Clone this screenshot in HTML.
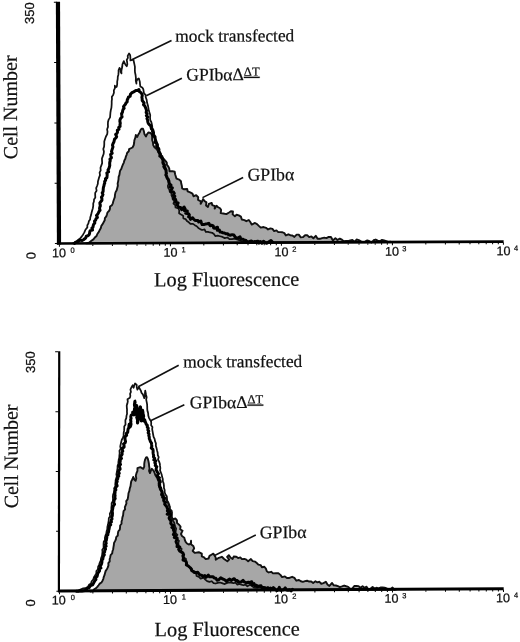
<!DOCTYPE html>
<html><head><meta charset="utf-8"><title>Figure</title>
<style>
html,body{margin:0;padding:0;background:#fff;}
svg{display:block;}
.sans{font-family:"Liberation Sans",sans-serif;fill:#111;stroke:#111;stroke-width:0.25px;}
.serif{font-family:"Liberation Serif",serif;fill:#111;stroke:#111;stroke-width:0.22px;}
</style></head><body>
<svg width="520" height="642" viewBox="0 0 520 642">
<rect width="520" height="642" fill="#fff"/>
<g id="top" transform="rotate(-0.25 180 150)">
<path d="M86.0,243.0 L88.5,242.3 L90.7,240.6 L93.0,239.0 L94.4,237.2 L96.2,235.6 L97.1,233.4 L98.5,231.5 L99.4,229.6 L100.5,227.7 L101.0,225.5 L102.3,223.8 L103.3,221.9 L104.4,220.0 L104.6,217.7 L106.0,216.0 L106.7,214.0 L107.3,212.0 L108.9,210.5 L109.7,208.5 L109.8,206.3 L111.7,204.9 L112.6,203.0 L113.1,201.0 L113.8,199.0 L114.6,196.8 L114.8,194.4 L115.3,192.1 L116.5,190.0 L117.1,187.7 L117.7,185.4 L117.5,183.2 L118.0,181.1 L118.4,178.9 L118.5,176.7 L119.3,174.7 L119.6,172.5 L120.0,170.4 L121.3,168.5 L122.0,166.3 L122.9,164.2 L123.8,162.3 L124.3,160.3 L125.3,158.5 L125.8,156.5 L126.6,154.6 L127.2,152.5 L128.8,151.0 L129.1,148.8 L132.5,147.3 L133.7,145.1 L134.2,142.6 L134.4,140.1 L135.4,137.5 L135.9,134.8 L136.6,136.2 L137.3,136.8 L138.3,134.5 L139.7,132.4 L140.4,130.4 L141.6,128.6 L143.1,128.6 L144.0,131.2 L144.5,133.9 L146.0,136.3 L147.2,134.0 L148.4,132.4 L150.8,132.9 L152.0,134.9 L152.2,137.2 L152.2,139.8 L153.0,142.3 L153.2,144.9 L154.5,147.2 L156.5,148.9 L158.0,151.0 L158.8,153.1 L160.2,154.7 L162.2,155.9 L163.0,158.0 L165.4,160.8 L166.7,162.6 L166.9,164.9 L168.3,166.5 L169.2,168.5 L169.4,171.2 L172.4,171.1 L174.6,171.7 L175.0,174.2 L175.7,176.4 L176.4,178.6 L179.1,179.6 L180.8,181.2 L181.1,183.6 L181.7,185.8 L182.0,188.4 L183.9,189.3 L187.0,189.1 L187.5,191.5 L190.0,192.4 L192.3,193.6 L193.3,196.3 L196.0,195.3 L198.0,197.3 L197.8,199.9 L200.7,201.4 L200.4,204.0 L201.8,201.7 L202.9,199.2 L204.3,201.1 L206.2,202.5 L205.8,205.5 L207.7,207.0 L208.6,204.1 L211.5,203.0 L212.0,205.2 L214.7,206.2 L214.4,208.8 L216.3,206.0 L217.9,207.4 L219.8,208.4 L220.9,210.1 L220.4,213.3 L223.0,213.7 L226.1,214.3 L228.8,212.7 L230.6,211.5 L232.7,211.7 L232.4,214.6 L234.6,216.5 L236.3,215.0 L238.5,215.6 L240.6,216.9 L241.5,219.8 L244.2,220.4 L246.0,221.5 L248.5,220.3 L250.0,222.3 L251.4,224.9 L254.7,223.3 L256.7,224.4 L258.5,226.2 L260.4,228.0 L263.3,227.4 L265.7,228.2 L267.7,229.8 L270.1,228.8 L272.1,229.3 L273.8,231.5 L276.1,230.8 L277.9,232.5 L280.0,232.6 L282.1,232.7 L284.0,233.6 L285.5,235.9 L288.0,234.8 L289.9,235.7 L292.0,236.0 L294.0,237.4 L296.3,235.1 L298.4,235.1 L300.4,237.9 L302.5,237.7 L304.7,235.8 L306.8,235.7 L308.8,237.7 L311.0,237.0 L313.0,238.8 L315.4,236.4 L317.2,239.4 L319.4,239.4 L321.7,238.7 L323.9,238.3 L326.0,238.8 L328.4,237.6 L330.6,237.6 L332.5,241.1 L335.0,238.8 L337.0,240.7 L339.4,239.3 L341.5,240.4 L343.3,242.0 L345.6,241.7 L347.7,241.8 L349.8,241.1 L352.0,240.7 L354.1,242.7 L356.2,240.3 L358.4,240.9 L360.5,242.1 L362.6,243.2 L364.7,242.4 L366.9,241.2 L369.0,242.0 L371.1,243.6 L373.2,241.1 L375.3,240.4 L377.4,241.4 L379.5,242.1 L381.6,240.8 L383.7,241.3 L385.8,242.0 L387.9,242.8 L390.0,242.6 L390.0,243.0 L86.0,243.0 Z" fill="#a7a7a7" stroke="#111" stroke-width="1.9" stroke-linejoin="round"/>
<path d="M72.0,243.0 L75.4,241.5 L77.7,239.6 L80.0,237.7 L81.5,235.9 L82.8,234.0 L84.0,232.0 L85.1,229.3 L87.0,227.0 L87.0,224.8 L88.1,223.0 L88.5,220.9 L89.8,219.1 L90.0,217.0 L90.8,214.7 L91.3,212.4 L91.9,210.1 L92.6,207.8 L93.0,205.4 L93.0,203.2 L93.7,201.2 L93.8,199.1 L95.1,197.2 L95.0,195.0 L95.0,192.5 L96.4,190.3 L96.0,187.7 L97.0,185.4 L97.7,183.4 L97.8,181.2 L98.4,179.1 L99.0,177.0 L99.9,174.8 L99.5,172.2 L100.6,170.0 L100.4,167.4 L101.3,165.0 L102.1,162.8 L102.0,160.5 L101.9,158.2 L102.7,156.0 L103.6,153.7 L103.9,151.2 L103.3,148.7 L104.1,146.3 L104.3,143.8 L104.3,141.2 L105.1,138.7 L106.0,136.2 L107.3,133.8 L107.6,131.4 L107.2,129.0 L108.1,126.6 L108.0,124.2 L108.1,121.7 L108.8,119.3 L110.2,117.1 L110.4,114.6 L110.6,112.2 L111.0,109.8 L111.6,107.4 L111.8,105.0 L111.9,102.9 L111.9,100.9 L112.2,98.8 L112.1,96.5 L113.4,94.6 L114.2,92.5 L114.1,90.2 L115.2,87.9 L115.1,85.4 L116.2,86.9 L117.0,86.5 L117.5,83.9 L117.5,81.3 L118.0,78.7 L118.1,76.5 L118.7,74.4 L118.9,72.2 L118.9,70.0 L119.9,67.6 L120.9,69.4 L121.0,71.5 L121.8,73.2 L121.7,70.9 L122.1,68.7 L122.6,66.5 L122.8,64.2 L124.2,60.9 L125.8,64.5 L127.1,66.0 L127.7,64.0 L127.5,61.8 L127.1,59.7 L128.3,57.7 L128.1,55.6 L129.5,53.2 L130.6,55.1 L130.8,57.6 L130.8,60.2 L133.8,59.4 L134.3,61.8 L134.8,64.2 L135.3,66.7 L135.2,69.3 L135.3,71.9 L135.9,74.8 L136.2,77.7 L136.1,80.6 L136.7,83.5 L136.7,81.2 L137.7,79.1 L139.1,78.2 L140.1,81.5 L140.3,83.9 L140.6,86.3 L142.5,87.3 L143.6,89.1 L143.9,91.2 L144.3,93.2 L145.8,94.8 L145.9,96.9 L146.9,99.7 L147.3,102.7 L148.1,105.3 L148.6,108.0 L148.9,110.2 L149.6,112.3 L150.4,114.8 L150.2,117.4 L150.4,120.0 L151.4,121.9 L151.9,123.9 L152.3,126.0 L152.4,128.2 L153.5,130.0 L154.1,132.2 L154.2,134.5 L155.7,136.4 L155.4,138.8 L156.5,140.8 L157.3,142.9 L158.1,145.0 L158.0,147.3 L158.4,149.5 L159.5,151.5 L160.9,153.6 L161.5,156.1 L161.8,158.6 L163.0,160.8 L163.8,162.9 L164.5,165.0 L165.4,167.1 L165.9,169.2 L166.0,171.5 L166.2,173.5 L166.1,175.6 L166.5,177.6 L167.4,179.5 L168.3,181.5 L168.6,183.5 L167.7,185.7 L168.0,187.7 L169.2,189.6 L169.6,191.7 L171.3,193.2 L171.3,195.4 L172.2,197.3 L172.5,199.3 L174.1,200.9 L173.2,203.5 L175.0,205.0 L175.3,207.5 L178.1,208.4 L179.0,210.5 L178.8,213.2 L180.8,214.6 L182.8,215.7 L183.1,218.5 L185.4,219.2 L186.6,221.1 L188.5,222.3 L190.1,223.9 L192.7,223.9 L194.5,225.2 L196.4,226.3 L198.0,228.0 L199.8,229.2 L201.7,230.1 L204.2,229.5 L205.4,232.1 L207.7,232.0 L209.7,232.6 L211.8,232.9 L213.5,234.1 L214.9,236.2 L217.3,235.8 L219.7,236.4 L222.1,237.1 L224.4,238.3 L227.0,237.7 L229.1,239.4 L231.6,239.3 L234.2,238.9 L236.5,239.6 L238.8,240.3 L241.0,241.6 L243.5,241.8 L246.0,241.5 L248.0,241.8 L250.0,241.3 L252.0,241.5 L254.0,242.6 L256.0,242.3 L258.1,241.0 L260.0,242.9 L262.0,242.5" fill="none" stroke="#111" stroke-width="1.75" stroke-linejoin="round"/>
<path d="M74.0,243.0 L75.1,241.7 L76.8,241.6 L78.2,240.6 L79.7,239.7 L81.7,240.1 L83.1,239.3 L84.3,238.4 L85.4,237.4 L86.0,235.7 L87.6,235.3 L88.7,234.4 L89.2,233.0 L89.4,231.5 L89.9,230.2 L92.2,229.7 L91.5,227.7 L92.7,226.8 L92.9,225.2 L93.4,223.8 L94.5,222.6 L94.2,220.8 L95.4,219.7 L95.7,218.2 L97.1,217.1 L96.2,215.1 L97.3,213.9 L98.1,212.6 L98.7,211.2 L99.8,209.9 L99.3,208.4 L99.5,206.9 L100.1,205.5 L99.8,204.0 L99.6,202.5 L100.7,201.2 L101.7,199.9 L101.7,198.4 L101.2,196.8 L102.2,195.6 L102.8,194.2 L102.0,192.5 L102.9,191.2 L103.0,189.8 L103.1,188.3 L103.3,186.9 L103.8,185.5 L104.0,184.1 L104.6,182.8 L104.5,181.2 L105.5,180.0 L105.3,178.5 L106.8,177.4 L106.9,176.0 L107.1,174.5 L106.7,172.7 L108.5,171.5 L107.9,169.7 L108.8,168.2 L109.3,166.7 L109.7,165.1 L109.6,163.5 L109.7,161.9 L110.2,160.4 L109.9,158.8 L111.4,157.5 L110.9,155.8 L110.6,154.1 L112.2,152.9 L111.5,151.1 L112.0,149.6 L112.5,148.1 L113.0,146.6 L112.5,144.9 L113.0,143.4 L113.8,142.0 L114.2,140.5 L114.6,138.9 L115.9,137.7 L116.7,136.4 L115.7,134.2 L117.1,133.1 L117.6,131.7 L117.4,130.0 L119.1,128.9 L118.8,127.2 L120.2,126.1 L120.1,124.4 L120.4,122.9 L120.0,121.1 L120.1,119.5 L120.8,118.0 L122.2,116.6 L121.9,114.9 L121.7,113.3 L122.6,112.1 L122.8,110.7 L123.2,109.3 L124.3,108.1 L123.7,106.4 L124.6,105.2 L125.6,104.1 L126.2,102.7 L127.4,101.6 L127.4,99.9 L128.1,98.5 L128.7,96.9 L130.4,96.0 L130.7,94.0 L131.9,92.7 L133.3,92.0 L134.8,91.2 L136.1,90.2 L137.8,90.4 L139.2,89.4 L139.6,91.3 L141.2,92.5 L142.2,93.9 L142.5,95.4 L142.1,97.1 L142.4,98.6 L142.4,100.3 L143.4,101.5 L144.3,102.8 L143.7,104.6 L145.0,105.7 L145.6,107.3 L146.3,108.9 L146.7,110.5 L146.3,112.3 L147.4,113.7 L146.5,115.5 L147.9,116.8 L147.1,118.5 L147.8,120.0 L147.9,121.7 L148.4,123.2 L149.4,124.5 L150.8,125.6 L151.2,127.2 L151.5,128.8 L152.8,129.9 L152.6,131.4 L153.5,132.8 L152.9,134.4 L153.5,135.8 L154.8,137.1 L155.2,138.9 L155.6,140.6 L155.1,142.2 L156.4,143.3 L157.1,144.5 L156.6,146.1 L157.5,147.3 L158.7,148.5 L159.0,149.8 L158.6,151.4 L159.6,152.6 L160.1,154.1 L159.8,156.0 L161.2,157.1 L162.5,158.7 L163.1,160.7 L162.8,162.3 L163.2,163.7 L164.3,164.8 L163.7,166.5 L164.4,167.8 L165.3,169.1 L166.0,170.3 L166.0,171.8 L166.3,173.3 L165.7,174.9 L166.6,176.3 L166.9,177.7 L168.1,179.1 L168.7,180.8 L169.0,182.6 L169.5,184.0 L170.9,185.1 L170.0,186.9 L172.2,187.9 L171.1,189.7 L170.7,191.5 L173.3,192.0 L174.1,193.2 L173.2,195.3 L174.6,196.2 L173.4,198.4 L175.2,199.2 L175.7,200.6 L175.3,202.3 L177.9,202.9 L176.8,204.9 L177.7,206.1 L178.7,207.3 L180.3,207.5 L181.4,209.7 L183.8,207.0 L184.9,209.0 L184.3,210.8 L187.1,211.1 L185.5,213.4 L188.2,213.7 L189.1,214.9 L188.3,216.8 L189.5,217.4 L190.2,219.4 L192.4,217.9 L193.4,219.3 L194.5,220.3 L195.9,220.6 L197.6,220.5 L198.4,222.0 L200.5,221.1 L201.1,223.1 L201.8,224.7 L203.5,224.6 L205.2,224.2 L206.8,223.9 L208.5,223.5 L209.9,225.9 L211.6,225.4 L212.9,226.0 L213.3,228.1 L214.8,228.4 L217.2,227.4 L217.0,230.5 L219.0,230.1 L219.7,232.1 L221.2,232.3 L222.5,233.0 L224.1,233.2 L225.4,233.9 L227.1,233.9 L228.3,235.0 L229.9,235.4 L231.8,234.9 L233.5,235.1 L234.5,236.9 L235.8,238.1 L237.5,238.2 L239.6,237.0 L240.5,239.4 L242.2,239.4 L243.6,240.2 L245.2,240.4 L246.4,241.7 L247.9,242.4 L249.7,241.6 L251.2,241.3 L252.7,242.8 L254.2,241.8 L255.7,242.1 L257.2,241.6 L258.6,243.5 L260.1,241.9 L261.5,243.6 L263.1,241.6 L264.6,242.8 L266.0,243.7 L267.5,243.0 L269.0,242.0 L270.6,241.0 L272.0,242.5" fill="none" stroke="#000" stroke-width="3.0" stroke-linejoin="round" stroke-linecap="round"/>
<line x1="132.7" y1="59.2" x2="172.0" y2="40.5" stroke="#111" stroke-width="1.6"/>
<line x1="146.5" y1="95.6" x2="182.2" y2="78.2" stroke="#111" stroke-width="1.6"/>
<line x1="202.3" y1="197.7" x2="243.0" y2="177.7" stroke="#111" stroke-width="1.6"/>
<polygon points="56.5,1.2 60.7,1.2 60.7,244.0 56.5,244.0" fill="#000"/>
<rect x="56.5" y="241.6" width="446.7" height="2.70" fill="#000"/>
<rect x="54.5" y="1.2" width="3" height="1" fill="#000"/>
<rect x="54.5" y="61.5" width="3" height="1" fill="#000"/>
<rect x="54.5" y="121.9" width="3" height="1" fill="#000"/>
<rect x="54.5" y="182.2" width="3" height="1" fill="#000"/>
<rect x="54.5" y="242.5" width="3" height="1" fill="#000"/>
<rect x="58.5" y="244.0" width="1" height="2.2" fill="#000"/>
<rect x="91.9" y="244.0" width="1" height="1.6" fill="#000"/>
<rect x="111.5" y="244.0" width="1" height="1.6" fill="#000"/>
<rect x="125.3" y="244.0" width="1" height="1.6" fill="#000"/>
<rect x="136.1" y="244.0" width="1" height="1.6" fill="#000"/>
<rect x="144.9" y="244.0" width="1" height="1.6" fill="#000"/>
<rect x="152.3" y="244.0" width="1" height="1.6" fill="#000"/>
<rect x="158.7" y="244.0" width="1" height="1.6" fill="#000"/>
<rect x="164.4" y="244.0" width="1" height="1.6" fill="#000"/>
<rect x="169.5" y="244.0" width="1" height="2.2" fill="#000"/>
<rect x="202.9" y="244.0" width="1" height="1.6" fill="#000"/>
<rect x="222.5" y="244.0" width="1" height="1.6" fill="#000"/>
<rect x="236.3" y="244.0" width="1" height="1.6" fill="#000"/>
<rect x="247.1" y="244.0" width="1" height="1.6" fill="#000"/>
<rect x="255.9" y="244.0" width="1" height="1.6" fill="#000"/>
<rect x="263.3" y="244.0" width="1" height="1.6" fill="#000"/>
<rect x="269.7" y="244.0" width="1" height="1.6" fill="#000"/>
<rect x="275.4" y="244.0" width="1" height="1.6" fill="#000"/>
<rect x="280.5" y="244.0" width="1" height="2.2" fill="#000"/>
<rect x="313.9" y="244.0" width="1" height="1.6" fill="#000"/>
<rect x="333.5" y="244.0" width="1" height="1.6" fill="#000"/>
<rect x="347.3" y="244.0" width="1" height="1.6" fill="#000"/>
<rect x="358.1" y="244.0" width="1" height="1.6" fill="#000"/>
<rect x="366.9" y="244.0" width="1" height="1.6" fill="#000"/>
<rect x="374.3" y="244.0" width="1" height="1.6" fill="#000"/>
<rect x="380.7" y="244.0" width="1" height="1.6" fill="#000"/>
<rect x="386.4" y="244.0" width="1" height="1.6" fill="#000"/>
<rect x="391.5" y="244.0" width="1" height="2.2" fill="#000"/>
<rect x="424.9" y="244.0" width="1" height="1.6" fill="#000"/>
<rect x="444.5" y="244.0" width="1" height="1.6" fill="#000"/>
<rect x="458.3" y="244.0" width="1" height="1.6" fill="#000"/>
<rect x="469.1" y="244.0" width="1" height="1.6" fill="#000"/>
<rect x="477.9" y="244.0" width="1" height="1.6" fill="#000"/>
<rect x="485.3" y="244.0" width="1" height="1.6" fill="#000"/>
<rect x="491.7" y="244.0" width="1" height="1.6" fill="#000"/>
<rect x="497.4" y="244.0" width="1" height="1.6" fill="#000"/>
<rect x="502.5" y="244.0" width="1" height="2.2" fill="#000"/>
<text x="51.6" y="256.7" class="sans" font-size="12.6">10</text>
<text x="72.2" y="252.2" class="sans" font-size="7.5" text-anchor="middle">0</text>
<text x="163.0" y="256.7" class="sans" font-size="12.6">10</text>
<text x="183.2" y="252.2" class="sans" font-size="7.5" text-anchor="middle">1</text>
<text x="274.0" y="256.7" class="sans" font-size="12.6">10</text>
<text x="293.8" y="252.2" class="sans" font-size="7.5" text-anchor="middle">2</text>
<text x="384.5" y="256.7" class="sans" font-size="12.6">10</text>
<text x="403.8" y="252.2" class="sans" font-size="7.5" text-anchor="middle">3</text>
<text x="496.0" y="256.7" class="sans" font-size="12.6">10</text>
<text x="515.6" y="252.2" class="sans" font-size="7.5" text-anchor="middle">4</text>
<text transform="translate(35.0,255.0) rotate(-90)" class="sans" font-size="13" text-anchor="middle">0</text>
<text transform="translate(34.5,23.3) rotate(-90)" class="sans" font-size="13">350</text>
<text transform="translate(17.2,158.5) rotate(-90)" class="serif" font-size="20">Cell Number</text>
<text x="153.5" y="286.3" class="serif" font-size="20.35">Log Fluorescence</text>
<text x="175.8" y="41.8" class="serif" font-size="17.35">mock transfected</text>
<text x="186.5" y="80.6" class="serif" font-size="17.6">GPIbαΔ<tspan font-size="12.6" dy="-4.5" text-decoration="underline">ΔT</tspan></text>
<text x="247.3" y="180.8" class="serif" font-size="17.8">GPIbα</text>
</g>
<g id="bottom" transform="rotate(-0.3 180 497)">
<path d="M90.0,591.0 L92.4,590.5 L93.6,588.8 L95.4,587.8 L96.8,586.4 L98.1,584.8 L99.3,583.2 L101.0,582.0 L102.1,580.3 L102.9,578.4 L103.4,576.4 L104.2,574.5 L104.7,572.5 L105.3,570.5 L106.5,568.8 L107.4,567.0 L108.1,565.0 L108.0,562.8 L109.4,561.0 L109.3,558.8 L109.9,556.8 L110.3,554.7 L111.9,553.0 L112.2,550.9 L112.9,548.9 L113.2,546.8 L113.6,544.7 L113.8,542.6 L114.8,540.8 L115.7,538.9 L116.0,536.8 L117.6,535.2 L117.7,533.0 L118.1,531.0 L119.6,529.4 L119.9,527.3 L120.0,525.2 L121.4,523.4 L121.4,521.2 L122.0,519.2 L122.3,517.1 L123.0,515.1 L123.2,513.0 L123.5,510.9 L125.0,509.2 L124.8,506.9 L125.6,505.0 L126.4,503.1 L126.2,500.9 L127.6,499.1 L128.0,497.1 L128.3,495.1 L128.5,493.0 L129.4,490.7 L129.8,488.3 L130.6,485.9 L130.9,483.5 L131.3,481.1 L132.5,479.0 L133.3,476.7 L134.6,479.5 L135.7,480.6 L136.4,478.1 L135.9,475.5 L136.6,473.0 L137.6,470.6 L137.6,468.0 L140.5,467.0 L143.4,468.6 L144.4,466.4 L144.4,464.0 L144.7,461.7 L145.3,459.4 L146.3,457.2 L147.2,457.0 L148.0,458.5 L148.7,461.3 L149.1,463.6 L149.3,465.9 L149.7,468.2 L149.2,470.7 L150.1,472.9 L151.0,470.5 L152.0,468.6 L154.0,471.0 L154.8,472.9 L155.4,474.8 L157.3,478.0 L158.4,480.2 L158.9,482.6 L158.7,485.1 L159.5,487.4 L160.0,489.5 L161.5,490.9 L162.5,492.7 L163.4,494.5 L164.2,496.4 L165.5,498.0 L167.0,500.0 L167.9,502.5 L169.2,504.6 L169.4,506.7 L169.5,508.8 L171.5,510.6 L171.9,512.7 L171.7,514.8 L171.5,517.0 L172.9,519.2 L175.4,518.5 L176.8,520.4 L176.9,522.9 L178.8,524.6 L180.4,526.5 L180.0,529.2 L182.4,530.7 L180.8,534.0 L181.8,536.1 L184.1,537.7 L184.6,540.0 L185.4,542.0 L186.7,543.5 L188.5,544.6 L190.9,543.4 L190.8,540.8 L190.4,544.0 L193.0,546.0 L193.9,548.3 L192.4,551.1 L194.6,553.0 L198.5,552.3 L201.5,553.8 L201.5,556.6 L203.8,557.6 L205.4,559.2 L208.2,558.7 L209.2,556.0 L211.1,554.9 L213.0,553.8 L214.2,555.7 L215.4,557.6 L215.4,560.0 L218.5,558.0 L221.5,557.0 L223.8,559.2 L227.0,561.5 L228.8,559.8 L226.8,557.1 L228.5,555.4 L230.4,558.0 L232.3,559.2 L233.4,556.8 L236.0,557.0 L237.8,558.4 L240.0,557.7 L241.6,559.4 L244.0,559.2 L246.0,560.0 L247.8,561.7 L250.6,559.4 L252.3,561.5 L254.6,562.0 L256.4,563.4 L258.0,565.0 L260.3,565.5 L261.5,567.7 L264.0,567.2 L265.5,569.0 L266.4,571.7 L268.2,572.9 L270.8,572.3 L272.8,573.9 L275.4,573.8 L278.0,573.8 L280.0,575.4 L281.7,577.7 L284.5,577.0 L286.5,578.5 L289.0,578.5 L291.7,577.4 L294.0,578.5 L295.9,581.3 L298.5,580.6 L300.4,581.9 L302.4,582.5 L304.6,581.8 L306.7,581.4 L308.7,582.2 L310.8,582.2 L312.7,583.7 L315.0,582.0 L316.9,583.1 L319.0,582.5 L320.8,584.5 L323.0,583.8 L325.4,582.5 L327.0,585.3 L328.9,586.7 L331.6,583.8 L333.3,586.2 L335.4,586.3 L337.4,587.0 L339.4,588.0 L341.5,587.3 L343.7,586.4 L345.7,587.1 L347.7,587.7 L349.6,589.5 L351.7,589.5 L354.0,586.9 L356.0,586.9 L358.1,587.1 L360.0,588.7 L362.1,587.1 L364.0,588.7 L366.1,587.7 L367.9,590.4 L370.0,589.7 L372.1,587.9 L374.0,589.5 L376.0,588.8 L378.0,589.5 L380.0,588.6 L382.1,588.5 L384.1,588.7 L386.0,589.5 L388.0,590.8 L390.0,590.3 L392.1,588.6 L394.0,591.1 L396.0,590.4 L396.0,590.5 L90.0,590.5 Z" fill="#a7a7a7" stroke="#111" stroke-width="1.9" stroke-linejoin="round"/>
<path d="M73.0,590.6 L75.8,590.7 L78.5,589.8 L80.5,588.7 L82.7,587.9 L85.0,587.7 L87.3,586.6 L88.5,584.3 L90.6,583.0 L91.2,580.8 L92.8,579.0 L93.5,576.8 L94.7,574.9 L95.9,573.0 L96.0,570.6 L97.6,568.8 L97.7,566.4 L98.7,564.4 L99.4,562.3 L100.4,560.2 L100.7,558.0 L101.5,555.9 L101.9,553.7 L102.2,551.5 L102.0,549.4 L103.3,547.6 L103.3,545.5 L103.3,543.5 L103.5,541.4 L104.7,539.6 L104.6,537.5 L105.2,535.3 L106.1,533.2 L106.4,531.0 L107.1,528.9 L107.2,526.6 L107.8,524.4 L108.2,522.2 L108.6,520.0 L108.7,517.8 L110.0,515.8 L109.7,513.5 L110.6,511.5 L111.3,509.4 L111.3,507.2 L111.6,505.0 L111.6,502.8 L112.8,500.8 L113.0,498.6 L112.8,496.4 L113.1,494.2 L114.0,492.1 L114.4,490.0 L114.1,487.9 L115.5,486.1 L115.3,484.0 L115.6,482.0 L115.7,480.0 L116.3,478.0 L116.9,476.1 L116.5,474.0 L116.9,472.0 L117.3,470.0 L117.7,467.9 L117.7,465.7 L118.4,463.6 L118.7,461.4 L118.9,459.3 L119.5,457.2 L119.6,455.0 L119.9,452.8 L119.7,450.5 L121.0,448.5 L120.5,446.2 L121.0,444.0 L121.5,441.7 L122.1,439.5 L123.3,437.4 L123.9,435.1 L124.0,432.7 L124.4,430.6 L124.6,428.4 L124.6,426.2 L125.9,424.2 L125.8,422.0 L125.8,419.8 L126.7,417.8 L126.9,415.6 L127.5,413.5 L127.4,411.4 L127.5,409.4 L127.3,407.3 L127.2,405.2 L127.9,403.1 L128.3,401.1 L128.0,399.0 L130.4,397.6 L130.9,395.6 L130.6,393.5 L131.5,391.6 L131.0,389.4 L131.8,387.5 L133.3,385.0 L134.2,387.5 L134.8,385.3 L135.7,383.2 L137.3,384.6 L137.3,387.1 L138.0,389.4 L139.5,387.0 L141.4,390.4 L142.0,392.5 L143.4,394.2 L144.1,396.1 L144.8,398.0 L145.5,395.5 L145.5,392.9 L145.8,390.4 L146.2,392.6 L146.6,394.8 L147.2,397.0 L146.7,399.5 L147.2,401.9 L147.6,404.3 L147.7,406.7 L147.7,408.9 L148.0,411.1 L148.6,413.2 L148.7,415.4 L149.3,417.4 L150.2,419.3 L151.5,421.0 L151.6,423.0 L151.5,425.1 L152.8,426.9 L152.5,429.0 L153.0,431.8 L153.5,434.6 L153.9,436.8 L154.9,438.8 L155.3,441.0 L156.2,443.3 L156.1,445.7 L156.8,448.0 L157.3,450.3 L157.9,452.6 L158.0,455.0 L158.9,457.1 L158.2,459.4 L159.3,461.5 L160.0,463.6 L160.2,465.8 L160.5,468.0 L160.2,470.3 L161.0,472.4 L161.8,474.5 L162.2,476.7 L162.9,478.9 L162.9,481.2 L163.7,483.3 L164.0,485.6 L164.0,487.9 L164.7,490.0 L164.7,492.2 L165.4,494.3 L166.8,496.2 L167.0,498.4 L166.9,500.7 L168.4,502.5 L168.4,504.8 L169.8,506.8 L169.7,509.3 L170.6,511.4 L170.2,513.9 L171.5,516.0 L171.5,518.3 L172.7,520.3 L173.9,522.3 L174.5,524.4 L175.0,526.6 L176.0,528.6 L175.5,531.0 L175.5,533.1 L177.2,534.8 L175.8,537.2 L176.8,539.1 L178.8,540.8 L178.1,543.0 L178.5,545.0 L179.1,547.2 L181.3,548.7 L181.0,551.2 L183.0,552.9 L182.0,555.7 L183.5,557.5 L185.7,558.9 L185.4,561.7 L185.7,564.1 L187.1,565.9 L189.0,567.5 L191.1,568.6 L192.1,570.7 L194.4,571.6 L195.6,573.5 L196.2,576.1 L198.5,577.0 L200.2,578.8 L203.3,577.8 L204.9,579.7 L206.7,581.3 L209.0,582.0 L211.2,581.4 L213.1,583.2 L215.1,583.7 L217.3,583.0 L219.5,582.7 L221.5,583.3 L223.8,584.3 L226.1,583.4 L228.4,582.6 L230.7,582.9 L233.0,583.5 L235.1,582.9 L236.9,584.9 L239.0,584.3 L240.9,585.0 L242.9,585.6 L245.0,585.0 L246.9,586.7 L249.5,585.2 L251.6,586.3 L253.4,588.0 L255.7,588.2 L258.0,588.0 L260.0,587.9 L262.0,588.8 L264.1,587.8 L266.1,588.0 L268.1,587.9 L270.0,589.0 L272.0,589.5" fill="none" stroke="#111" stroke-width="1.75" stroke-linejoin="round"/>
<path d="M76.0,590.6 L77.7,590.8 L79.4,590.2 L81.2,590.6 L82.8,590.2 L84.5,590.0 L85.8,589.0 L86.9,587.6 L88.5,587.4 L89.4,586.0 L90.6,585.0 L92.2,584.4 L93.0,582.9 L93.7,581.6 L94.4,580.2 L95.5,579.0 L95.0,577.1 L96.6,576.1 L97.0,574.6 L97.3,573.0 L98.2,571.7 L99.2,570.4 L98.7,568.6 L100.5,567.6 L99.5,565.6 L100.8,564.4 L101.3,563.0 L101.6,561.5 L101.5,559.9 L102.5,558.7 L102.7,557.2 L103.1,555.7 L104.0,554.4 L103.1,552.7 L104.4,551.5 L104.4,550.0 L105.3,548.7 L104.4,547.1 L105.9,545.8 L105.0,544.2 L106.0,542.9 L105.4,541.4 L106.1,540.0 L106.3,538.6 L106.6,537.2 L106.3,535.5 L107.7,534.4 L107.7,532.9 L108.4,531.5 L108.5,530.0 L108.9,528.6 L109.2,527.1 L109.2,525.6 L110.6,524.4 L109.5,522.6 L111.3,521.5 L111.0,519.9 L111.9,518.6 L111.5,517.0 L112.2,515.6 L112.3,514.1 L112.4,512.6 L112.1,511.0 L112.4,509.6 L112.7,508.1 L112.9,506.6 L113.5,505.2 L114.5,503.9 L113.7,502.3 L114.0,500.9 L114.2,499.5 L115.2,498.2 L114.8,496.7 L115.1,495.3 L114.8,493.8 L115.1,492.4 L114.9,490.9 L115.9,489.6 L115.6,488.2 L115.9,486.8 L117.2,485.6 L116.8,484.1 L116.4,482.5 L117.3,481.2 L116.9,479.7 L117.9,478.5 L117.9,477.0 L118.9,475.8 L118.1,474.2 L119.4,473.0 L118.5,471.4 L119.2,470.1 L120.3,468.7 L119.9,467.1 L119.1,465.4 L120.7,464.2 L120.0,462.5 L120.4,461.0 L120.3,459.5 L121.7,458.2 L120.7,456.5 L121.6,455.1 L122.4,453.8 L122.1,452.2 L123.0,450.9 L122.6,449.3 L122.6,447.8 L124.4,446.8 L124.3,445.2 L123.8,443.6 L125.5,442.5 L125.8,441.1 L125.4,439.5 L125.3,437.8 L125.5,436.2 L127.0,435.0 L126.6,433.2 L128.1,432.0 L128.2,430.3 L128.5,428.7 L129.3,427.3 L129.3,425.7 L129.6,424.1 L130.5,426.7 L131.1,425.3 L131.4,423.9 L131.1,422.4 L131.3,421.0 L131.0,419.6 L131.5,418.2 L131.2,416.5 L131.6,414.9 L133.3,413.7 L133.1,412.0 L134.2,413.1 L134.3,414.7 L134.3,413.2 L134.2,411.6 L134.9,410.1 L134.9,408.6 L135.6,407.1 L135.0,405.5 L134.9,403.9 L135.6,402.4 L135.4,400.9 L135.2,402.4 L135.0,404.0 L136.2,405.5 L135.4,407.1 L135.4,408.7 L135.5,410.2 L137.2,411.6 L136.9,413.2 L136.9,414.8 L137.4,413.2 L137.5,411.6 L136.1,409.9 L136.8,408.4 L137.5,406.8 L137.1,405.2 L136.7,406.7 L137.2,408.1 L137.8,409.6 L137.5,411.1 L138.2,412.5 L137.8,414.0 L137.7,415.5 L137.1,417.0 L137.6,418.4 L137.9,419.9 L138.3,421.3 L137.9,422.8 L137.8,421.3 L138.6,419.8 L138.3,418.3 L138.0,416.7 L139.4,415.3 L139.1,413.8 L140.0,412.4 L139.4,410.8 L139.5,409.3 L140.4,408.0 L140.9,406.6 L141.1,408.0 L140.8,409.5 L140.4,410.9 L140.3,412.3 L141.0,413.7 L141.5,415.1 L142.3,416.5 L140.9,418.0 L141.8,419.4 L141.7,420.8 L141.7,419.3 L141.3,417.7 L141.5,416.1 L142.3,414.6 L143.5,413.2 L143.3,411.6 L143.0,410.0 L142.8,411.6 L142.9,413.1 L143.8,414.6 L144.1,416.1 L143.4,417.7 L144.5,419.1 L143.8,420.7 L145.2,419.8 L145.5,421.2 L146.1,422.6 L146.6,424.0 L147.7,425.2 L147.6,426.8 L148.6,428.1 L148.2,429.7 L149.1,431.0 L148.5,432.6 L149.4,433.9 L149.1,435.4 L149.6,436.8 L149.6,438.5 L150.3,440.0 L150.8,441.5 L151.8,442.9 L151.9,444.5 L152.1,446.2 L151.5,447.9 L153.1,449.1 L153.4,450.7 L153.3,452.3 L153.5,453.9 L153.9,455.4 L153.7,456.9 L154.9,458.1 L154.0,459.8 L156.0,460.8 L155.0,462.6 L155.7,463.9 L155.4,465.4 L157.0,466.5 L156.4,468.2 L156.2,469.7 L157.0,471.0 L157.6,472.3 L158.6,473.6 L157.5,475.2 L157.7,476.6 L159.5,477.7 L158.5,479.3 L160.1,480.4 L160.4,481.8 L159.4,483.5 L159.8,484.8 L159.7,486.3 L160.5,487.5 L161.0,488.9 L161.3,490.2 L162.1,491.5 L162.0,493.0 L161.6,494.6 L162.6,495.7 L162.6,497.2 L164.2,498.2 L163.6,499.9 L164.0,501.2 L165.5,502.3 L164.6,504.0 L165.5,505.2 L166.6,506.4 L167.1,507.8 L167.8,509.1 L167.3,510.9 L169.3,511.7 L167.1,514.1 L170.7,514.4 L169.6,516.4 L169.0,518.0 L169.6,519.3 L170.6,520.5 L170.9,521.8 L170.6,523.4 L171.5,524.6 L173.5,525.5 L171.7,527.4 L173.6,528.4 L173.2,529.9 L173.8,531.2 L174.2,532.7 L173.2,534.5 L175.2,535.5 L174.1,537.4 L177.0,538.2 L176.6,539.9 L175.8,541.7 L176.4,543.1 L177.1,544.5 L176.8,546.5 L179.5,547.0 L178.4,549.4 L179.2,550.9 L180.9,551.9 L182.6,553.0 L183.3,554.6 L182.8,556.7 L183.2,558.1 L182.7,560.0 L184.5,560.7 L185.8,561.7 L186.2,563.2 L186.0,565.0 L187.7,565.8 L188.8,566.8 L189.9,567.8 L190.9,569.0 L191.3,570.8 L192.8,571.5 L193.8,572.6 L195.7,572.7 L197.4,572.4 L198.5,574.0 L199.7,575.2 L201.3,575.4 L202.4,576.6 L204.4,575.7 L205.6,577.5 L207.9,575.3 L209.1,577.0 L210.8,576.9 L212.5,576.8 L213.8,578.2 L215.4,578.5 L216.6,580.4 L218.3,580.0 L220.3,578.0 L221.7,578.8 L223.2,579.5 L224.6,580.3 L226.1,581.6 L227.7,580.2 L229.2,579.3 L230.7,580.7 L232.3,579.7 L233.8,579.0 L235.3,581.0 L236.8,580.7 L237.9,582.6 L239.4,582.2 L240.8,582.3 L242.6,580.6 L243.7,582.2 L245.1,582.7 L246.4,583.3 L248.0,582.5 L249.3,583.0 L251.3,582.1 L251.4,585.4 L253.6,583.9 L254.4,586.0 L256.1,585.7 L257.0,587.2 L258.9,586.4 L260.6,586.2 L261.4,588.0 L262.8,587.9 L264.2,588.2 L265.6,589.4 L267.1,588.3 L268.5,589.3 L270.0,588.5 L271.3,589.8 L272.9,588.1 L274.3,589.3 L275.7,590.7 L277.2,590.9 L278.8,587.9 L280.1,590.8 L281.6,590.6 L283.1,590.3 L284.7,588.4 L286.1,590.6 L287.5,590.8 L289.0,590.3 L290.5,591.5 L292.0,590.0" fill="none" stroke="#000" stroke-width="3.0" stroke-linejoin="round" stroke-linecap="round"/>
<line x1="138.8" y1="386.5" x2="179.4" y2="365.2" stroke="#111" stroke-width="1.6"/>
<line x1="150.4" y1="420.8" x2="184.8" y2="404.8" stroke="#111" stroke-width="1.6"/>
<line x1="213.8" y1="556.0" x2="255.6" y2="535.4" stroke="#111" stroke-width="1.6"/>
<polygon points="58.9,350.6 61.1,350.6 59.5,591.5 57.3,591.5" fill="#000"/>
<rect x="57.9" y="588.9" width="445.3" height="3.00" fill="#000"/>
<rect x="55.9" y="350.6" width="3" height="1" fill="#000"/>
<rect x="55.9" y="410.5" width="3" height="1" fill="#000"/>
<rect x="55.9" y="470.3" width="3" height="1" fill="#000"/>
<rect x="55.9" y="530.1" width="3" height="1" fill="#000"/>
<rect x="55.9" y="590.0" width="3" height="1" fill="#000"/>
<rect x="58.5" y="591.5" width="1" height="2.2" fill="#000"/>
<rect x="91.9" y="591.5" width="1" height="1.6" fill="#000"/>
<rect x="111.5" y="591.5" width="1" height="1.6" fill="#000"/>
<rect x="125.3" y="591.5" width="1" height="1.6" fill="#000"/>
<rect x="136.1" y="591.5" width="1" height="1.6" fill="#000"/>
<rect x="144.9" y="591.5" width="1" height="1.6" fill="#000"/>
<rect x="152.3" y="591.5" width="1" height="1.6" fill="#000"/>
<rect x="158.7" y="591.5" width="1" height="1.6" fill="#000"/>
<rect x="164.4" y="591.5" width="1" height="1.6" fill="#000"/>
<rect x="169.5" y="591.5" width="1" height="2.2" fill="#000"/>
<rect x="202.9" y="591.5" width="1" height="1.6" fill="#000"/>
<rect x="222.5" y="591.5" width="1" height="1.6" fill="#000"/>
<rect x="236.3" y="591.5" width="1" height="1.6" fill="#000"/>
<rect x="247.1" y="591.5" width="1" height="1.6" fill="#000"/>
<rect x="255.9" y="591.5" width="1" height="1.6" fill="#000"/>
<rect x="263.3" y="591.5" width="1" height="1.6" fill="#000"/>
<rect x="269.7" y="591.5" width="1" height="1.6" fill="#000"/>
<rect x="275.4" y="591.5" width="1" height="1.6" fill="#000"/>
<rect x="280.5" y="591.5" width="1" height="2.2" fill="#000"/>
<rect x="313.9" y="591.5" width="1" height="1.6" fill="#000"/>
<rect x="333.5" y="591.5" width="1" height="1.6" fill="#000"/>
<rect x="347.3" y="591.5" width="1" height="1.6" fill="#000"/>
<rect x="358.1" y="591.5" width="1" height="1.6" fill="#000"/>
<rect x="366.9" y="591.5" width="1" height="1.6" fill="#000"/>
<rect x="374.3" y="591.5" width="1" height="1.6" fill="#000"/>
<rect x="380.7" y="591.5" width="1" height="1.6" fill="#000"/>
<rect x="386.4" y="591.5" width="1" height="1.6" fill="#000"/>
<rect x="391.5" y="591.5" width="1" height="2.2" fill="#000"/>
<rect x="424.9" y="591.5" width="1" height="1.6" fill="#000"/>
<rect x="444.5" y="591.5" width="1" height="1.6" fill="#000"/>
<rect x="458.3" y="591.5" width="1" height="1.6" fill="#000"/>
<rect x="469.1" y="591.5" width="1" height="1.6" fill="#000"/>
<rect x="477.9" y="591.5" width="1" height="1.6" fill="#000"/>
<rect x="485.3" y="591.5" width="1" height="1.6" fill="#000"/>
<rect x="491.7" y="591.5" width="1" height="1.6" fill="#000"/>
<rect x="497.4" y="591.5" width="1" height="1.6" fill="#000"/>
<rect x="502.5" y="591.5" width="1" height="2.2" fill="#000"/>
<text x="51.1" y="603.9" class="sans" font-size="12.6">10</text>
<text x="72.2" y="599.4" class="sans" font-size="7.5" text-anchor="middle">0</text>
<text x="162.5" y="603.9" class="sans" font-size="12.6">10</text>
<text x="183.2" y="599.4" class="sans" font-size="7.5" text-anchor="middle">1</text>
<text x="273.5" y="603.9" class="sans" font-size="12.6">10</text>
<text x="293.8" y="599.4" class="sans" font-size="7.5" text-anchor="middle">2</text>
<text x="384.0" y="603.9" class="sans" font-size="12.6">10</text>
<text x="403.8" y="599.4" class="sans" font-size="7.5" text-anchor="middle">3</text>
<text x="495.5" y="603.9" class="sans" font-size="12.6">10</text>
<text x="515.6" y="599.4" class="sans" font-size="7.5" text-anchor="middle">4</text>
<text transform="translate(34.5,602.1) rotate(-90)" class="sans" font-size="13" text-anchor="middle">0</text>
<text transform="translate(35.6,372.2) rotate(-90)" class="sans" font-size="13">350</text>
<text transform="translate(18.0,507.5) rotate(-90)" class="serif" font-size="20">Cell Number</text>
<text x="153.9" y="636.1" class="serif" font-size="20.35">Log Fluorescence</text>
<text x="184.0" y="367.6" class="serif" font-size="17.35">mock transfected</text>
<text x="190.3" y="408.4" class="serif" font-size="17.6">GPIbαΔ<tspan font-size="12.6" dy="-4.5" text-decoration="underline">ΔT</tspan></text>
<text x="259.5" y="538.7" class="serif" font-size="17.8">GPIbα</text>
</g>
</svg>
</body></html>
